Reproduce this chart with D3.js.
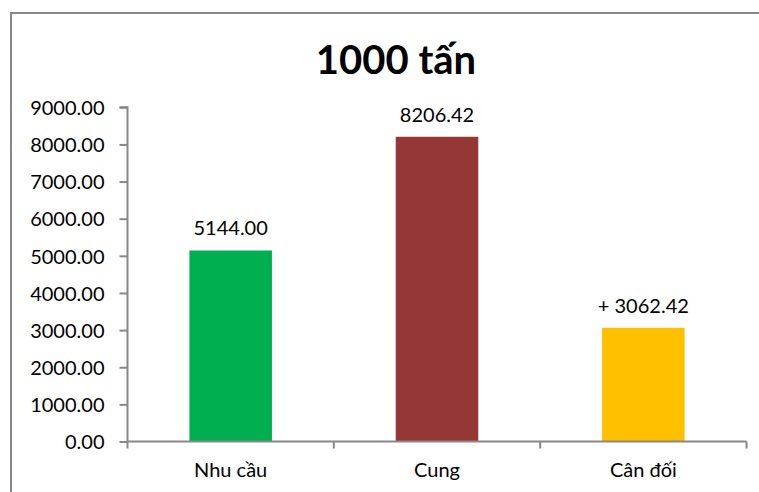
<!DOCTYPE html>
<html>
<head>
<meta charset="utf-8">
<script src="https://cdn.jsdelivr.net/npm/d3@7/dist/d3.min.js"></script>
<style>
  html, body { margin: 0; padding: 0; background: #fff; }
  svg { display: block; }
  text { font-family: Lato, "Open Sans", sans-serif; fill: #000; }
</style>
</head>
<body>
<svg id="chart" width="759" height="492"></svg>
<script>
const title = "1000 tấn";
const categories = ["Nhu cầu", "Cung", "Cân đối"];
const values = [5144.00, 8206.42, 3062.42];
const labelPrefixes = ["", "", "+ "];
const colors = ["#00B050", "#953735", "#FFC000"];
const yTicks = [0, 1000, 2000, 3000, 4000, 5000, 6000, 7000, 8000, 9000];

const svg = d3.select("#chart");
const W = 759, H = 492;

// outer chart border
svg.append("rect")
  .attr("x", 11).attr("y", 13)
  .attr("width", W + 10).attr("height", H + 10)
  .attr("fill", "#fff")
  .attr("stroke", "#878787").attr("stroke-width", 2);

const plot = { left: 127.5, right: 746.5, top: 107.3, bottom: 441.5 };

const x = d3.scaleBand()
  .domain(categories)
  .range([plot.left, plot.right])
  .padding(0);

const y = d3.scaleLinear()
  .domain([0, 9000])
  .range([plot.bottom, plot.top]);

// title
svg.append("text")
  .attr("x", 396)
  .attr("y", 74)
  .attr("text-anchor", "middle")
  .attr("font-size", 40)
  .attr("font-weight", "bold")
  .text(title);

// y axis
const yAxis = d3.axisLeft(y)
  .tickValues(yTicks)
  .tickSize(8)
  .tickPadding(15)
  .tickFormat(d3.format(".2f"));

const gy = svg.append("g")
  .attr("transform", `translate(${plot.left},0)`)
  .call(yAxis);
gy.selectAll("path, line").attr("stroke", "#888").attr("stroke-width", 2);
gy.select(".domain").attr("d", `M-8,${plot.top}H0V${plot.bottom}`);
gy.selectAll("text")
  .style("font-family", "Lato, 'Open Sans', sans-serif")
  .attr("font-size", 20)
  .attr("fill", "#000")
  .attr("dy", "0.36em");

// bars
const barW = x.bandwidth() * 0.4;
svg.selectAll("rect.bar")
  .data(values)
  .enter().append("rect")
  .attr("class", "bar")
  .attr("x", (d, i) => x(categories[i]) + (x.bandwidth() - barW) / 2)
  .attr("y", d => y(d))
  .attr("width", barW)
  .attr("height", d => y(0) - y(d))
  .attr("fill", (d, i) => colors[i]);

// x axis
const xAxis = d3.axisBottom(x).tickSize(0).tickPadding(21);
const gx = svg.append("g")
  .attr("transform", `translate(0,${plot.bottom})`)
  .call(xAxis);
gx.select(".domain").attr("stroke", "#888").attr("stroke-width", 2)
  .attr("d", `M${plot.left},0H${plot.right}`);
gx.selectAll("text")
  .style("font-family", "Lato, 'Open Sans', sans-serif")
  .attr("font-size", 20)
  .attr("fill", "#000");
// category boundary ticks
const bounds = categories.map(c => x(c)).concat([x(categories[categories.length - 1]) + x.bandwidth()]);
gx.selectAll("line.bound")
  .data(bounds)
  .enter().append("line")
  .attr("class", "bound")
  .attr("x1", d => d).attr("x2", d => d)
  .attr("y1", 0).attr("y2", 7)
  .attr("stroke", "#888").attr("stroke-width", 2);

// value labels
svg.selectAll("text.val")
  .data(values)
  .enter().append("text")
  .attr("class", "val")
  .attr("x", (d, i) => x(categories[i]) + x.bandwidth() / 2)
  .attr("y", d => y(d) - 15)
  .attr("text-anchor", "middle")
  .attr("font-size", 20)
  .text((d, i) => labelPrefixes[i] + d3.format(".2f")(d));
</script>
</body>
</html>
